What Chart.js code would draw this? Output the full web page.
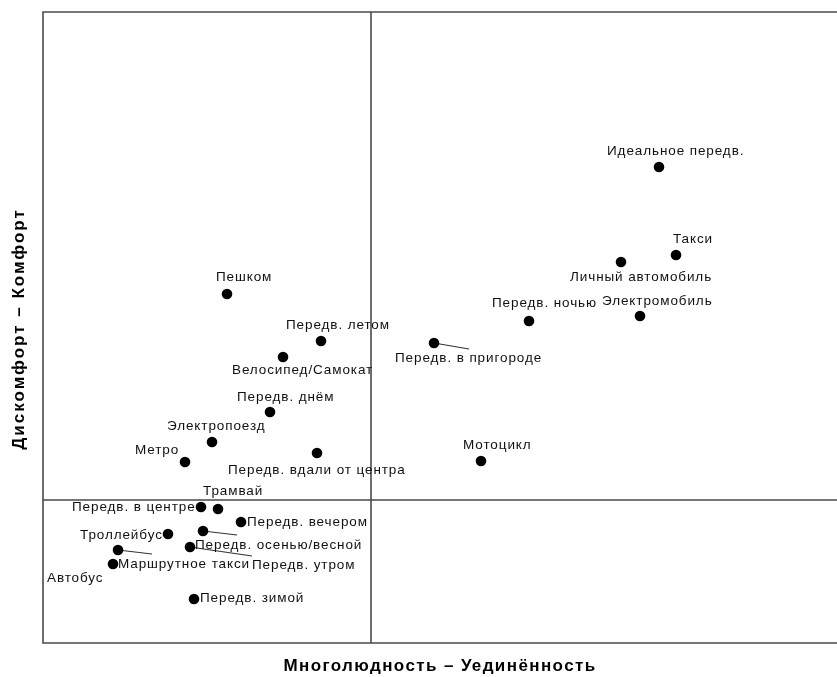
<!DOCTYPE html>
<html>
<head>
<meta charset="utf-8">
<script src="https://cdn.jsdelivr.net/npm/chart.js@4.4.1/dist/chart.umd.min.js"></script>
<style>
html,body{margin:0;padding:0;background:#fff;overflow:hidden;}
#wrap{width:837px;height:677px;position:relative;}
</style>
</head>
<body>
<div id="wrap"><canvas id="c" width="837" height="677"></canvas></div>
<script>
// Category names
const names = [
  "Идеальное передв.", "Такси", "Личный автомобиль", "Электромобиль",
  "Передв. ночью", "Передв. в пригороде", "Мотоцикл", "Пешком",
  "Передв. летом", "Велосипед/Самокат", "Передв. днём", "Электропоезд",
  "Метро", "Передв. вдали от центра", "Трамвай", "Передв. в центре",
  "Передв. вечером", "Троллейбус", "Передв. осенью/весной", "Передв. утром",
  "Маршрутное такси", "Автобус", "Передв. зимой"
];
// Dimension 1: Многолюдность – Уединённость
const xValues = [
  2.88, 3.05, 2.50, 2.69,
  1.58, 0.63, 1.10, -1.44,
  -0.50, -0.88, -1.01, -1.59,
  -1.86, -0.54, -1.53, -1.70,
  -1.30, -2.03, -1.68, -1.81,
  -2.53, -2.58, -1.77
];
// Dimension 2: Дискомфорт – Комфорт
const yValues = [
  3.33, 2.45, 2.38, 1.84,
  1.79, 1.57, 0.39, 2.06,
  1.59, 1.43, 0.88, 0.58,
  0.38, 0.47, -0.09, -0.07,
  -0.22, -0.34, -0.31, -0.47,
  -0.50, -0.64, -0.99
];
const xTitle = "Многолюдность – Уединённость";
const yTitle = "Дискомфорт – Комфорт";

// Label layout (pixel offsets from each point: left edge x, vertical centre y)
const labelOffsets = [
  [-52,-16],[-3,-16],[-51,15],[-38,-15],
  [-37,-18],[-39,15],[-18,-16],[-11,-17],
  [-35,-16],[-51,13],[-33,-15],[-45,-16],
  [-50,-12],[-89,17],[-15,-18],[-129,0],
  [6,0],[-88,1],[-8,14],[62,18],
  [0,14],[-66,14],[6,-1]
];
// Leader lines (pixel offsets of line end), null = none
const leaderEnds = [
  null,null,null,null,
  null,[35,6],null,null,
  null,null,null,null,
  null,null,null,null,
  null,null,[34,4],[62,9],
  [34,4],null,null
];

const points = xValues.map((x,i)=>({x:x, y:yValues[i]}));

const FONT = '"Liberation Sans", Arial, sans-serif';

const decor = {
  id:'decor',
  beforeDatasetsDraw(chart){
    const {ctx, chartArea:a, scales:{x,y}} = chart;
    ctx.save();
    ctx.strokeStyle = '#4a4a4a';
    ctx.lineWidth = 1.6;
    const R = 840;
    ctx.beginPath();
    ctx.moveTo(R, a.top); ctx.lineTo(a.left, a.top);
    ctx.lineTo(a.left, a.bottom); ctx.lineTo(R, a.bottom);
    ctx.stroke();
    const x0 = x.getPixelForValue(0), y0 = y.getPixelForValue(0);
    ctx.beginPath();
    ctx.moveTo(x0, a.top); ctx.lineTo(x0, a.bottom);
    ctx.moveTo(a.left, y0); ctx.lineTo(R, y0);
    ctx.stroke();
    ctx.strokeStyle = '#333';
    ctx.lineWidth = 1.2;
    points.forEach((p,i)=>{
      const e = leaderEnds[i];
      if(!e) return;
      const px = x.getPixelForValue(p.x), py = y.getPixelForValue(p.y);
      ctx.beginPath(); ctx.moveTo(px,py); ctx.lineTo(px+e[0], py+e[1]); ctx.stroke();
    });
    ctx.restore();
  },
  afterDatasetsDraw(chart){
    const {ctx, scales:{x,y}} = chart;
    ctx.save();
    ctx.fillStyle = '#111';
    ctx.font = '13.5px ' + FONT;
    ctx.letterSpacing = '0.9px';
    ctx.textAlign = 'left';
    ctx.textBaseline = 'middle';
    points.forEach((p,i)=>{
      const px = x.getPixelForValue(p.x), py = y.getPixelForValue(p.y);
      const o = labelOffsets[i];
      ctx.fillText(names[i], px+o[0], py+o[1]);
    });
    ctx.fillStyle = '#000';
    ctx.font = 'bold 17px ' + FONT;
    ctx.textAlign = 'center';
    ctx.letterSpacing = '1.4px';
    ctx.fillText(xTitle, 440, 666);
    ctx.letterSpacing = '2.0px';
    ctx.translate(19, 329);
    ctx.rotate(-Math.PI/2);
    ctx.fillText(yTitle, 0, 0);
    ctx.restore();
  }
};

new Chart(document.getElementById('c'), {
  type:'scatter',
  data:{datasets:[{
    data: points,
    backgroundColor:'#000',
    borderColor:'#000',
    pointRadius:5.3,
    pointHoverRadius:5.3,
    borderWidth:0
  }]},
  options:{
    responsive:false,
    animation:false,
    events:[],
    layout:{autoPadding:false, padding:{left:43, top:12, right:0, bottom:34}},
    plugins:{legend:{display:false}, tooltip:{enabled:false}},
    scales:{
      x:{type:'linear', min:-3.28, max:4.66, display:false},
      y:{type:'linear', min:-1.43, max:4.88, display:false}
    }
  },
  plugins:[decor]
});
</script>
</body>
</html>
